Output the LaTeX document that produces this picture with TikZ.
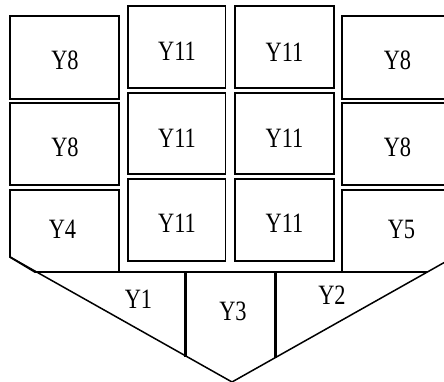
\documentclass[tikz,border=0pt]{standalone}
\usepackage{fontspec}
\setmainfont[FakeStretch=0.8]{Liberation Serif}
\begin{document}
\begin{tikzpicture}[x=1pt,y=-1pt,
  cell/.style={draw=black,line width=1.8pt},
  divider/.style={draw=black,line width=3pt},
  edge/.style={draw=black,line width=1.5pt},
  lbl/.style={inner sep=0pt,font=\fontsize{28}{30}\selectfont}]
\useasboundingbox (0,0) rectangle (444,382);
\clip (0,0) rectangle (444,382);
% left column
\draw[cell] (10,16) rectangle (119,98.7);
\draw[cell] (10,102.7) rectangle (119,185);
\draw[cell] (10,190) -- (119,190) -- (119,272) -- (35,272) -- (10,257) -- cycle;
% middle columns
\draw[cell] (127.7,6) rectangle (225.5,88);
\draw[cell] (127.7,92.7) rectangle (225.5,174);
\draw[cell] (127.7,179) rectangle (225.5,260.7);
\draw[cell] (235.3,6) rectangle (333.7,88);
\draw[cell] (235.3,92.7) rectangle (333.7,174);
\draw[cell] (235.3,179) rectangle (333.7,260.7);
% right column
\draw[cell] (342,16) rectangle (454,98.7);
\draw[cell] (342,102.7) rectangle (454,185);
\draw[cell] (454,257) -- (454,190) -- (342,190) -- (342,272) -- (427,272);
% bottom wedge
\draw[edge] (10,257) -- (232,382) -- (454,257);
\draw[edge] (35,272) -- (427,272);
\coordinate (d1t) at (185,272);
\coordinate (d1b) at (185,357);
\coordinate (d2t) at (275,272);
\coordinate (d2b) at (275,358);
\draw[divider] (d1t) -- (d1b);
\draw[divider] (d2t) -- (d2b);
% labels
\node[lbl] (l8a) at (65,60) {Y8};
\node[lbl] (l8b) at (65,147) {Y8};
\node[lbl] (l4) at (62.5,229) {Y4};
\node[lbl] (l11a) at (177,51.5) {Y11};
\node[lbl] (l11b) at (177,138) {Y11};
\node[lbl] (l11c) at (177,223.5) {Y11};
\node[lbl] (l11d) at (284.5,52) {Y11};
\node[lbl] (l11e) at (284.5,138) {Y11};
\node[lbl] (l11f) at (284.5,223.5) {Y11};
\node[lbl] (l8c) at (397.5,60) {Y8};
\node[lbl] (l8d) at (397.5,147) {Y8};
\node[lbl] (l5) at (401.5,229) {Y5};
\node[lbl] (l1) at (138.5,299) {Y1};
\node[lbl] (l3) at (233,311.5) {Y3};
\node[lbl] (l2) at (332,295) {Y2};
\end{tikzpicture}
\end{document}
